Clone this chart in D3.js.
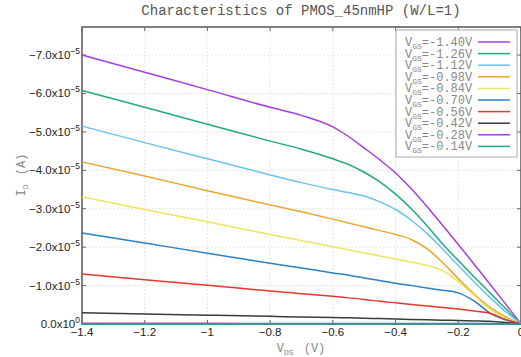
<!DOCTYPE html>
<html>
<head>
<meta charset="utf-8">
<script src="https://cdn.jsdelivr.net/npm/d3@7"></script>
<style>
  body { margin: 0; background: #fff; }
  svg { display: block; }
</style>
</head>
<body>
<script>
// drain voltage (V)
const vds = [-1.4, -1.2, -1.0, -0.8, -0.7, -0.6, -0.55, -0.5, -0.45, -0.4, -0.35, -0.3, -0.25, -0.2, -0.15, -0.1, -0.05, 0];

// drain current, in units of 1e-5 A
const id140 = [-7.00, -6.55, -6.10, -5.64, -5.43, -5.13, -4.88, -4.58, -4.27, -3.93, -3.52, -3.06, -2.57, -2.07, -1.56, -1.05, -0.53, 0];
const id126 = [-6.08, -5.64, -5.20, -4.76, -4.55, -4.30, -4.15, -3.95, -3.70, -3.38, -3.00, -2.56, -2.08, -1.65, -1.23, -0.82, -0.41, 0];
const id112 = [-5.15, -4.72, -4.30, -3.88, -3.68, -3.50, -3.42, -3.33, -3.18, -2.98, -2.70, -2.36, -1.95, -1.52, -1.10, -0.70, -0.33, 0];
const id098 = [-4.22, -3.85, -3.47, -3.10, -2.92, -2.73, -2.63, -2.53, -2.43, -2.33, -2.20, -1.96, -1.60, -1.18, -0.78, -0.44, -0.19, 0];
const id084 = [-3.31, -2.98, -2.66, -2.33, -2.17, -2.01, -1.93, -1.85, -1.77, -1.69, -1.61, -1.52, -1.39, -1.11, -0.75, -0.39, -0.16, 0];
const id070 = [-2.37, -2.11, -1.84, -1.58, -1.46, -1.33, -1.27, -1.20, -1.13, -1.06, -1.00, -0.94, -0.88, -0.81, -0.60, -0.29, -0.11, 0];
const id056 = [-1.30, -1.15, -1.01, -0.86, -0.79, -0.72, -0.68, -0.64, -0.59, -0.55, -0.51, -0.47, -0.43, -0.39, -0.34, -0.28, -0.12, 0];
const id042 = [-0.29, -0.26, -0.23, -0.20, -0.18, -0.17, -0.16, -0.15, -0.14, -0.13, -0.12, -0.11, -0.10, -0.09, -0.08, -0.07, -0.04, 0];
const id028 = [-0.02, -0.02, -0.02, -0.01, -0.01, -0.01, -0.01, -0.01, -0.01, -0.01, -0.01, -0.01, -0.01, -0.01, -0.01, -0.01, 0, 0];
const id014 = [0, 0, 0, 0, 0, 0, 0, 0, 0, 0, 0, 0, 0, 0, 0, 0, 0, 0];

const vgsLabels = ["-1.40V", "-1.26V", "-1.12V", "-0.98V", "-0.84V", "-0.70V", "-0.56V", "-0.42V", "-0.28V", "-0.14V"];
const seriesValues = [id140, id126, id112, id098, id084, id070, id056, id042, id028, id014];
const colors = ["#a23fe0", "#1faa7f", "#6cc2f0", "#eaa62a", "#f1e35c", "#2a80c2", "#e8362c", "#3a3a3a", "#a23fe0", "#1faa7f"];

const xTicks = [-1.4, -1.2, -1.0, -0.8, -0.6, -0.4, -0.2, 0];
const yTicks = [0, -1, -2, -3, -4, -5, -6, -7];

const width = 521, height = 357;
const m = { left: 82, right: 521, top: 27, bottom: 324 };

const svg = d3.select("body").append("svg")
    .attr("width", width)
    .attr("height", height);

const x = d3.scaleLinear().domain([-1.4, 0]).range([m.left, m.right]);
const y = d3.scaleLinear().domain([0, -7.73]).range([m.bottom, m.top]);

// grid
const grid = svg.append("g")
    .attr("stroke", "#d6d6d6")
    .attr("stroke-width", 0.8)
    .attr("stroke-dasharray", "1.5,2");
grid.selectAll(".gx").data(xTicks.slice(1, -1)).enter().append("line")
    .attr("x1", d => x(d)).attr("x2", d => x(d))
    .attr("y1", m.top).attr("y2", m.bottom);
grid.selectAll(".gy").data(yTicks.slice(1)).enter().append("line")
    .attr("x1", m.left).attr("x2", m.right)
    .attr("y1", d => y(d)).attr("y2", d => y(d));

// frame
svg.append("rect")
    .attr("x", m.left).attr("y", m.top)
    .attr("width", m.right - m.left).attr("height", m.bottom - m.top)
    .attr("fill", "none")
    .attr("stroke", "#555")
    .attr("stroke-width", 1.5);

// ticks (inward, mirrored)
const ticks = svg.append("g").attr("stroke", "#666").attr("stroke-width", 1);
xTicks.forEach(v => {
    ticks.append("line").attr("x1", x(v)).attr("x2", x(v)).attr("y1", m.bottom).attr("y2", m.bottom - 4);
    ticks.append("line").attr("x1", x(v)).attr("x2", x(v)).attr("y1", m.top).attr("y2", m.top + 4);
});
yTicks.forEach(v => {
    ticks.append("line").attr("x1", m.left).attr("x2", m.left + 4).attr("y1", y(v)).attr("y2", y(v));
    ticks.append("line").attr("x1", m.right - 4).attr("x2", m.right).attr("y1", y(v)).attr("y2", y(v));
});

// curves
const line = d3.line()
    .x(d => x(d[0]))
    .y(d => y(d[1]))
    .curve(d3.curveMonotoneX);

svg.append("g").selectAll("path")
    .data(seriesValues)
    .enter().append("path")
    .attr("d", vals => line(vds.map((v, i) => [v, vals[i]])))
    .attr("fill", "none")
    .attr("stroke", (d, i) => colors[i])
    .attr("stroke-width", 1.5);

// x tick labels
svg.append("g").selectAll("text")
    .data(xTicks)
    .enter().append("text")
    .attr("x", d => x(d))
    .attr("y", 336)
    .attr("text-anchor", "middle")
    .attr("font-family", "Liberation Sans, Arial, sans-serif")
    .attr("font-size", 11.5)
    .attr("fill", "#222")
    .text(d => d === 0 ? "0" : "\u2212" + (+Math.abs(d).toFixed(1)));

// y tick labels
const yl = svg.append("g").selectAll("text")
    .data(yTicks)
    .enter().append("text")
    .attr("x", 80)
    .attr("y", d => y(d) + 4)
    .attr("text-anchor", "end")
    .attr("font-family", "Liberation Sans, Arial, sans-serif")
    .attr("font-size", 11.5)
    .attr("fill", "#222");
yl.append("tspan").text(d => d === 0 ? "0.0x10" : "\u2212" + Math.abs(d).toFixed(1) + "x10");
yl.append("tspan")
    .attr("dy", -5)
    .attr("font-size", 8.5)
    .text(d => d === 0 ? "0" : "\u22125");

// title
svg.append("text")
    .attr("x", 301)
    .attr("y", 15)
    .attr("text-anchor", "middle")
    .attr("font-family", "Liberation Mono, Courier New, monospace")
    .attr("font-size", 14)
    .attr("fill", "#555")
    .text("Characteristics of PMOS_45nmHP (W/L=1)");

// x axis label
const xl = svg.append("text")
    .attr("x", 301)
    .attr("y", 352)
    .attr("text-anchor", "middle")
    .attr("font-family", "Liberation Mono, Courier New, monospace")
    .attr("font-size", 12)
    .attr("fill", "#888")
    .style("white-space", "pre");
xl.append("tspan").text("V");
xl.append("tspan").attr("dy", 3).attr("font-size", 8).text("DS");
xl.append("tspan").attr("dy", -3).attr("dx", 3).text(" (V)");

// y axis label
const ylab = svg.append("text")
    .attr("transform", "translate(25,175) rotate(-90)")
    .attr("text-anchor", "middle")
    .attr("font-family", "Liberation Mono, Courier New, monospace")
    .attr("font-size", 12)
    .attr("fill", "#888")
    .style("white-space", "pre");
ylab.append("tspan").text("I");
ylab.append("tspan").attr("dy", 3).attr("font-size", 8).text("D");
ylab.append("tspan").attr("dy", -3).attr("dx", 2).text(" (A)");

// legend
const legend = svg.append("g");
legend.append("rect")
    .attr("x", 396).attr("y", 30)
    .attr("width", 121).attr("height", 127)
    .attr("fill", "#fff")
    .attr("stroke", "#aaa")
    .attr("stroke-width", 1);

const rows = legend.selectAll(".row")
    .data(vgsLabels)
    .enter().append("g")
    .attr("transform", (d, i) => `translate(0,${42 + i * 11.6})`);

const lt = rows.append("text")
    .attr("x", 405)
    .attr("y", 4)
    .attr("font-family", "Liberation Mono, Courier New, monospace")
    .attr("font-size", 12)
    .attr("fill", "#888");
lt.append("tspan").text("V");
lt.append("tspan").attr("dy", 3).attr("font-size", 8).text("GS");
lt.append("tspan").attr("dy", -3).text(d => "=" + d);

rows.append("line")
    .attr("x1", 478).attr("x2", 510)
    .attr("y1", 0).attr("y2", 0)
    .attr("stroke", (d, i) => colors[i])
    .attr("stroke-width", 1.5);
</script>
</body>
</html>
